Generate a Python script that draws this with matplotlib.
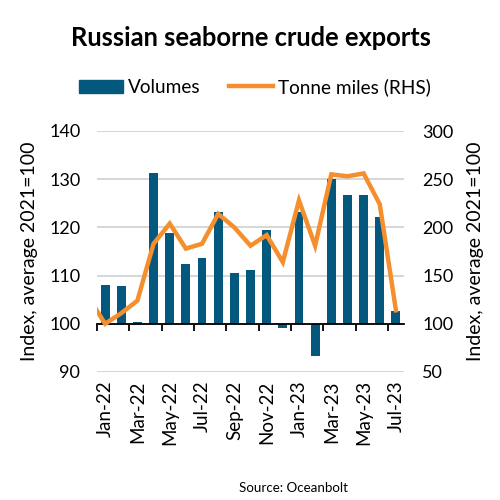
import matplotlib.pyplot as plt
from matplotlib.lines import Line2D
from matplotlib.patches import Patch

plt.rcParams['font.family'] = ['Lato', 'DejaVu Sans']

months = ['Jan-22', 'Feb-22', 'Mar-22', 'Apr-22', 'May-22', 'Jun-22', 'Jul-22',
          'Aug-22', 'Sep-22', 'Oct-22', 'Nov-22', 'Dec-22', 'Jan-23', 'Feb-23',
          'Mar-23', 'Apr-23', 'May-23', 'Jun-23', 'Jul-23']
volumes = [108.1, 107.9, 100.4, 131.2, 118.9, 112.4, 113.7, 123.1, 110.6, 111.2,
           119.4, 99.2, 123.1, 93.3, 130.0, 126.7, 126.7, 122.2, 102.6]
# tonne miles, first value is Dec-21 (clipped at the left edge)
tonne_miles = [127, 100, 111, 124, 183, 204, 178, 183, 214, 200, 181,
               192, 164, 228, 181, 255, 253, 256, 224, 114]

blue = '#04587e'
orange = '#f58f2d'

fig = plt.figure(figsize=(5, 5), dpi=100)
ax = fig.add_axes([0.194, 0.256, 0.614, 0.482])
ax2 = ax.twinx()

x = list(range(len(months)))
ax.bar(x, [v - 100 for v in volumes], bottom=100, width=0.55, color=blue, zorder=2)
ax2.plot(range(-1, len(months)), tonne_miles, color=orange, lw=3.2,
         solid_joinstyle='miter', zorder=3)

ax.set_xlim(-0.5, len(months) - 0.5)
ax.set_ylim(90, 140)
ax2.set_ylim(50, 300)
ax.set_yticks(range(90, 141, 10))
ax2.set_yticks(range(50, 301, 50))
ax.grid(axis='y', color='#d0d0d0', lw=1.2, zorder=0)
ax.set_axisbelow(True)

for a in (ax, ax2):
    for s in ('top', 'left', 'right'):
        a.spines[s].set_visible(False)
ax2.spines['bottom'].set_visible(False)
ax.spines['bottom'].set_position(('data', 100))
ax.spines['bottom'].set_color('black')
ax.spines['bottom'].set_linewidth(1.3)
ax.spines['bottom'].set_zorder(4)

ax.set_xticks([i - 0.5 for i in range(0, len(months) + 1, 2)])
ax.tick_params(axis='x', length=5, width=1.3, labelbottom=False)
ax.tick_params(axis='y', length=0, labelsize=13, pad=12)
ax2.tick_params(axis='y', length=0, labelsize=13, pad=13)

sec = ax.secondary_xaxis('bottom')
sec.set_xticks(x[::2], months[::2], rotation=90, fontsize=13.5)
sec.tick_params(length=0, pad=6)
sec.spines['bottom'].set_visible(False)

ax.set_ylabel('Index, average 2021=100', fontsize=14, labelpad=8)
ax2.set_ylabel('Index, average 2021=100', fontsize=14, labelpad=10)

fig.text(0.502, 0.925, 'Russian seaborne crude exports', ha='center', va='center',
         fontsize=18.4, fontweight='bold')

handles = [Patch(color=blue, label='Volumes'),
           Line2D([], [], color=orange, lw=3.2, label='Tonne miles (RHS)')]
fig.legend(handles=handles, loc='center', bbox_to_anchor=(0.51, 0.826), ncol=2,
           frameon=False, fontsize=13.7, handlelength=2.3, handletextpad=0.25,
           columnspacing=1.5)

fig.text(0.696, 0.025, 'Source: Oceanbolt', ha='right', va='center', fontsize=9.6)

fig.savefig('out.png', dpi=100)
